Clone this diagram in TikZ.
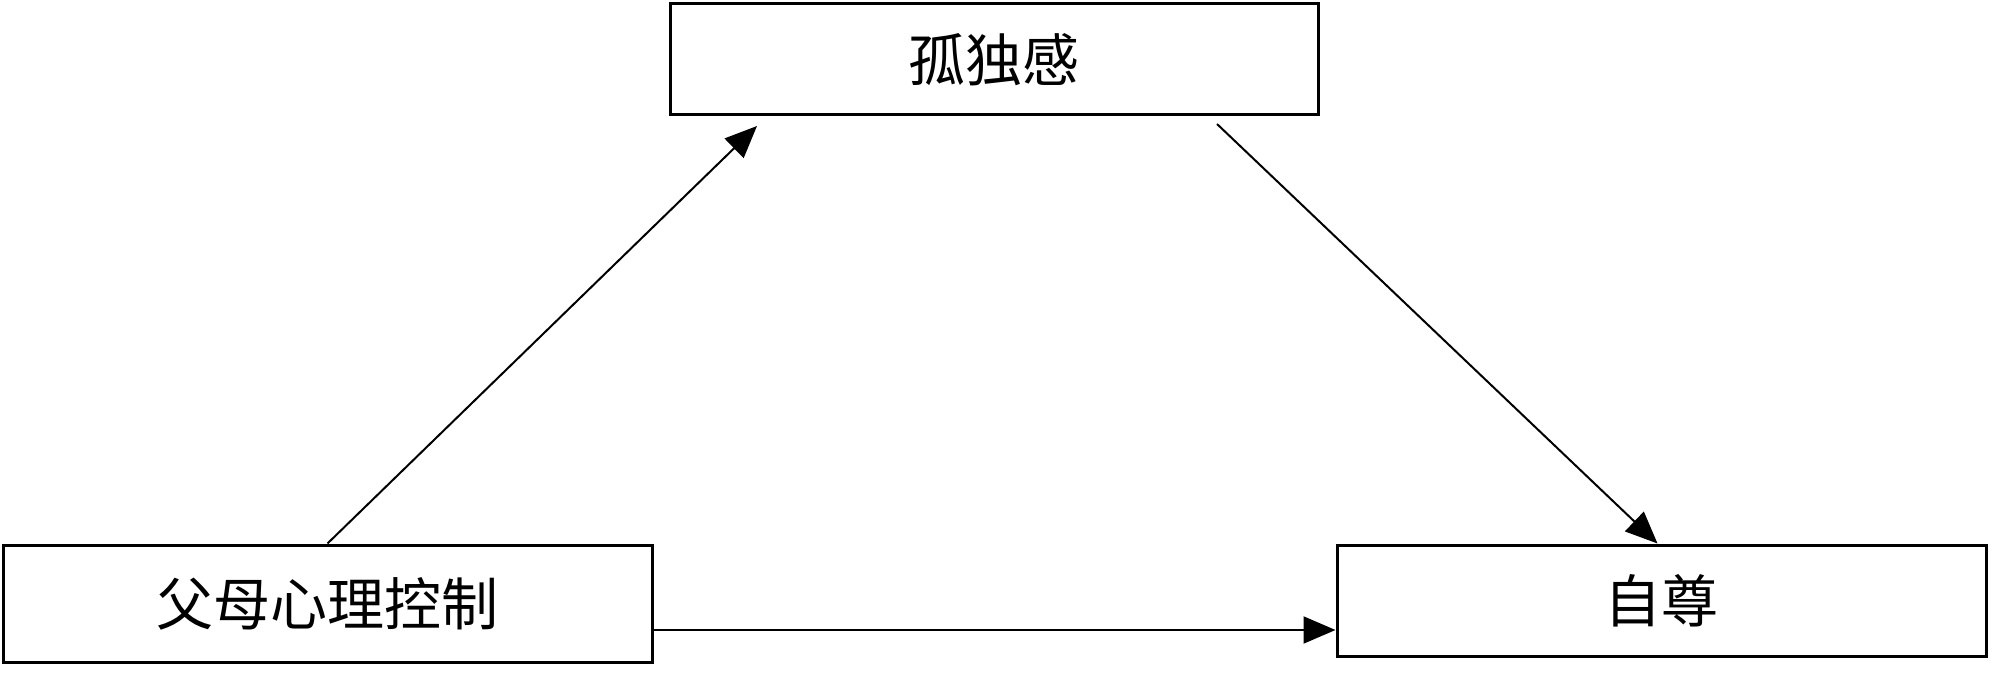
\documentclass[tikz,border=0pt]{standalone}
\usepackage{fontspec}
\newfontfamily\cjk{Noto Sans CJK SC}
\usetikzlibrary{arrows.meta,calc}
\begin{document}
\begin{tikzpicture}[x=1pt,y=1pt,
  box/.style={draw=black,line width=3pt,rectangle,inner sep=0pt,fill=white,
    font=\cjk\fontsize{57}{62}\selectfont},
  conn/.style={draw=black,line width=2pt,-{Triangle[length=32pt,width=27pt]}}]
\useasboundingbox[fill=white] (0,0) rectangle (2000,-679);
\node[box,minimum width=648pt,minimum height=111pt] (top) at (994,-59.5) {孤独感};
\node[box,minimum width=649pt,minimum height=117pt] (left) at (327.5,-603.5) {父母心理控制};
\node[box,minimum width=649pt,minimum height=111pt] (right) at (1661.5,-600.5) {自尊};
\coordinate (a1s) at ($(left.north west)+(326,0)$);
\coordinate (a1e) at (757,-126);
\coordinate (a2s) at (1217,-124);
\coordinate (a2e) at ($(right.north west)+(322,0)$);
\coordinate (a3s) at ($(left.east)+(0,-26.5)$);
\coordinate (a3e) at ($(right.west)+(0,-29.5)$);
\draw[conn] (a1s) -- (a1e);
\draw[conn] (a2s) -- (a2e);
\draw[conn] (a3s) -- (a3e);
\end{tikzpicture}
\end{document}
